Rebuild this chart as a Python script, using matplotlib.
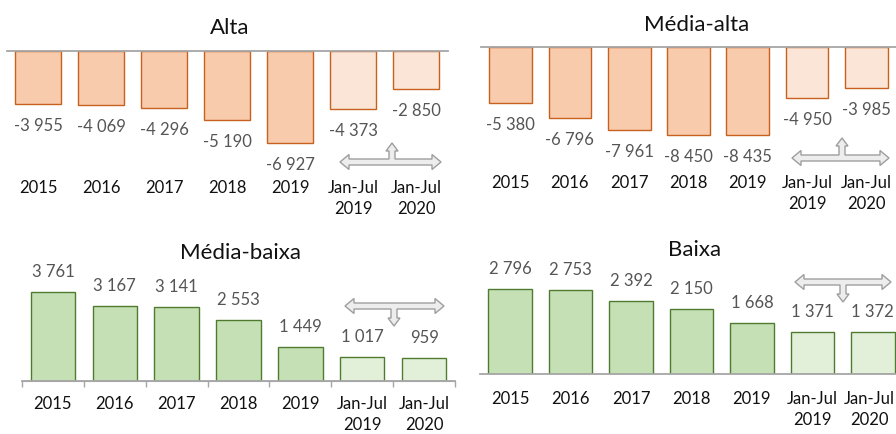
import matplotlib
matplotlib.use("Agg")
import matplotlib.pyplot as plt
from matplotlib.patches import Polygon
from matplotlib.transforms import blended_transform_factory

plt.rcParams['font.family'] = ['Lato', 'DejaVu Sans']

# data
categories = ["2015", "2016", "2017", "2018", "2019", "Jan-Jul\n2019", "Jan-Jul\n2020"]
alta = [-3955, -4069, -4296, -5190, -6927, -4373, -2850]
media_alta = [-5380, -6796, -7961, -8450, -8435, -4950, -3985]
media_baixa = [3761, 3167, 3141, 2553, 1449, 1017, 959]
baixa = [2796, 2753, 2392, 2150, 1668, 1371, 1372]
titles = ["Alta", "Média-alta", "Média-baixa", "Baixa"]

W, H = 896, 435
fig = plt.figure(figsize=(W / 100, H / 100), dpi=100)


def fx(px):
    return px / W


def fy(py):
    return 1 - py / H


ORANGE_EDGE = "#C8611E"
ORANGE = ["#F8CBAD"] * 5 + ["#FBE5D6"] * 2
GREEN_EDGE = "#4F7B31"
GREEN = ["#C5E0B4"] * 5 + ["#E2F0D9"] * 2
LABEL_C = "#555555"
AXIS_C = "#A6A6A6"


def fmt(v):
    return f"{v:,}".replace(",", " ")


def tarrow(px_l, px_r, py_c, px_m, py_tip):
    # T-shaped block arrow in pixel coords (y downward)
    s, h, L = 3, 7.5, 9
    s2, h2, L2 = 3, 6, 8
    d = 1 if py_tip > py_c else -1  # branch direction
    yb = py_c + d * s
    pts_top = [
        (px_l, py_c), (px_l + L, py_c - h), (px_l + L, py_c - s),
        (px_r - L, py_c - s), (px_r - L, py_c - h), (px_r, py_c),
        (px_r - L, py_c + h), (px_r - L, py_c + s),
        (px_l + L, py_c + s), (px_l + L, py_c + h),
    ]
    branch = [
        (px_m - s2, yb), (px_m - s2, py_tip - d * L2), (px_m - h2, py_tip - d * L2),
        (px_m, py_tip), (px_m + h2, py_tip - d * L2), (px_m + s2, py_tip - d * L2),
        (px_m + s2, yb),
    ]
    if d < 0:
        pts = pts_top[:3] + branch + pts_top[3:]
    else:
        pts = pts_top[:8] + branch[::-1] + pts_top[8:]
    pts = [(fx(x), fy(y)) for x, y in pts]
    fig.add_artist(Polygon(pts, closed=True, transform=fig.transFigure,
                           facecolor="#EDEDED", edgecolor="#9E9E9E", lw=1.0))


def panel(values, title, left, right, zero, scale, fills, edge,
          title_xy, tick_y1, arrow, ticks=False):
    depth = 115
    neg = values[0] < 0
    if neg:
        rect = [fx(left), fy(zero + depth), fx(right) - fx(left), depth / H]
    else:
        rect = [fx(left), fy(zero), fx(right) - fx(left), depth / H]
    ax = fig.add_axes(rect)
    x = list(range(len(values)))
    ax.bar(x, values, width=0.72, color=fills, edgecolor=edge, lw=1.0, zorder=2)
    ax.set_xlim(-0.5, 6.5)
    if neg:
        ax.set_ylim(-depth / scale, 0)
    else:
        ax.set_ylim(0, depth / scale)
    for s in ax.spines.values():
        s.set_visible(False)
    ax.axhline(0, color=AXIS_C, lw=1.3, zorder=3, clip_on=False)
    ax.set_yticks([])
    ax.set_xticks([])
    if ticks:
        ax.set_xticks([i - 0.5 for i in range(8)], minor=True)
        ax.tick_params(axis="x", which="minor", length=4, color=AXIS_C,
                       width=1.0, direction="out")
        ax.spines["bottom"].set_visible(True)
        ax.spines["bottom"].set_color(AXIS_C)
    for xi, v in zip(x, values):
        off = -21 if neg else 21
        ax.annotate(fmt(v), (xi, v), xytext=(0, off * 0.72), textcoords="offset points",
                    ha="center", va="center", fontsize=12, color=LABEL_C,
                    annotation_clip=False)
    tr = blended_transform_factory(ax.transData, fig.transFigure)
    for xi, c in zip(x, categories):
        t = ax.text(xi, fy(tick_y1 - 8.5), c, transform=tr, ha="center", va="top",
                    fontsize=12, color="#111111", linespacing=1.35, clip_on=False)
        # keep the last label inside the figure edge, as in the source image
        if right > W and xi == x[-1]:
            t.set_x(xi - 0.06)
    fig.text(fx(title_xy[0]), fy(title_xy[1]), title, ha="center", va="center",
             fontsize=16, color="#111111")
    tarrow(*arrow)
    return ax


panel(alta, titles[0], 6.5, 447.5, 52, 0.01335, ORANGE, ORANGE_EDGE,
      (230, 28), 189, (340, 441, 163, 392, 144))
panel(media_alta, titles[1], 481, 896, 48, 0.0104, ORANGE, ORANGE_EDGE,
      (697, 25), 184, (792, 889, 159, 842, 139))
panel(media_baixa, titles[2], 22, 455, 382, 0.0237, GREEN, GREEN_EDGE,
      (240, 253), 405, (345, 444, 307, 394, 327), ticks=True)
panel(baixa, titles[3], 480, 903, 375, 0.0304, GREEN, GREEN_EDGE,
      (695, 250), 400, (795, 891, 283, 843, 303))

fig.savefig("out.png", dpi=100)
